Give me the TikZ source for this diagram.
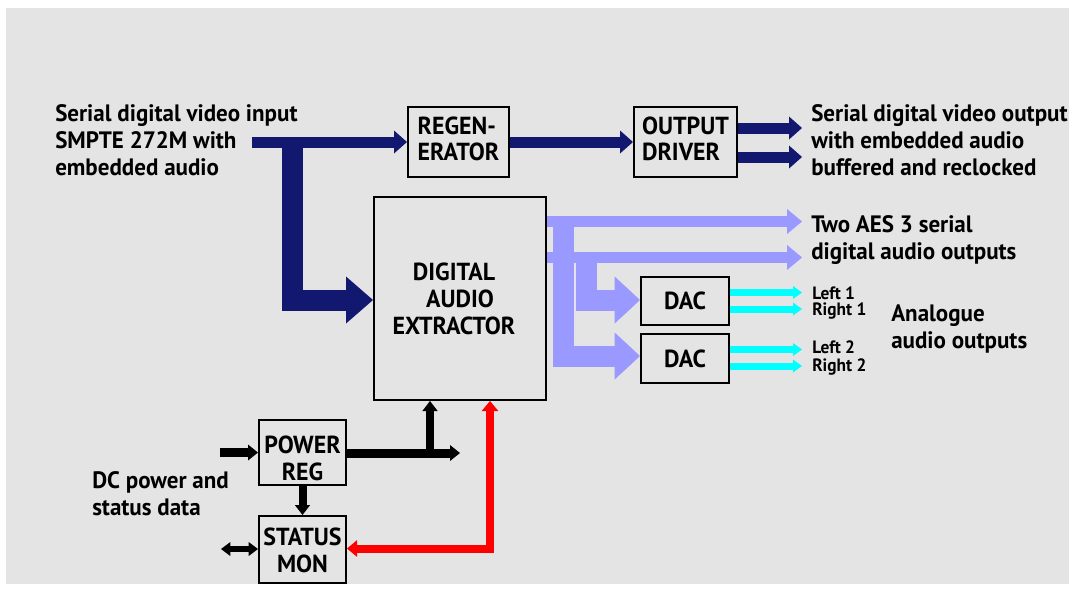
\documentclass[tikz,border=0pt]{standalone}
\usepackage{fontspec}
\setmainfont{PT Sans}
\newfontfamily\sdfont{PT Sans}[FakeStretch=0.97]
\usetikzlibrary{arrows.meta}
\definecolor{bg}{RGB}{228,228,228}
\definecolor{navy}{RGB}{18,24,112}
\definecolor{lav}{RGB}{153,153,255}
\definecolor{aqua}{RGB}{0,255,255}
\begin{document}
\begin{tikzpicture}[x=0.75pt,y=-0.75pt,
  lab/.style={font=\sdfont\bfseries\fontsize{17.8}{20.3}\selectfont, inner sep=0pt, align=left, anchor=north west},
  small/.style={font=\sdfont\bfseries\fontsize{13.4}{14}\selectfont, inner sep=0pt, anchor=base west},
  box/.style={draw=black, line width=1.5pt, inner sep=0pt, align=center, font=\sdfont\bfseries\fontsize{18.5}{20.25}\selectfont},
  navyA/.style={draw=navy, line width=8.25pt, -{Triangle[length=9.75pt,width=17.25pt,line width=0pt 0 0]}},
  navyB/.style={draw=navy, line width=15.75pt, -{Triangle[length=20.25pt,width=35.25pt,line width=0pt 0 0]}},
  lavA/.style={draw=lav, line width=8.25pt, -{Triangle[length=11.25pt,width=18.75pt,line width=0pt 0 0]}},
  lavB/.style={draw=lav, line width=15.75pt, -{Triangle[length=19pt,width=35.25pt,line width=0pt 0 0]}},
  cyanA/.style={draw=aqua, line width=5.25pt, -{Triangle[length=6.75pt,width=9.75pt,line width=0pt 0 0]}},
  blkA/.style={draw=black, line width=6.75pt, -{Triangle[length=7.5pt,width=12pt,line width=0pt 0 0]}},
  blkB/.style={draw=black, line width=6pt, -{Triangle[length=7.5pt,width=11.5pt,line width=0pt 0 0]}},
  blkD/.style={draw=black, line width=5pt, {Triangle[length=7pt,width=10.5pt,line width=0pt 0 0]}-{Triangle[length=7pt,width=10.5pt,line width=0pt 0 0]}},
  redD/.style={draw=red, line width=6pt, {Triangle[length=7.5pt,width=12.5pt,line width=0pt 0 0]}-{Triangle[length=7.5pt,width=12.5pt,line width=0pt 0 0]}}
]
\useasboundingbox (0,0) rectangle (1069,589);
\fill[bg] (6,8) rectangle (1069,584);

% boxes
\node[box, minimum width=75.75pt, minimum height=52.5pt] (regen) at (458.5,142) {\begin{tabular}{@{}l@{}}REGEN-\\[-1pt]ERATOR\end{tabular}};
\node[box, minimum width=77.25pt, minimum height=52.5pt] (outdrv) at (685.5,142) {\begin{tabular}{@{}l@{}}OUTPUT\\[-1pt]DRIVER\end{tabular}};
\node[box, minimum width=129pt, minimum height=152.25pt] (dae) at (460,298.5) {DIGITAL\hspace*{9pt}\\AUDIO\hspace*{9pt}\\EXTRACTOR\hspace*{9pt}};
\node[box, minimum width=66pt, minimum height=36pt] (dac1) at (685,301) {DAC};
\node[box, minimum width=66pt, minimum height=36.75pt] (dac2) at (685,358.5) {DAC};
\node[box, minimum width=65.25pt, minimum height=48.75pt] (pwr) at (302.5,452.5) {\rule{0pt}{22pt}POWER\\REG};
\node[box, minimum width=65.25pt, minimum height=50.25pt] (stat) at (302.5,549.5) {\rule{0pt}{15pt}STATUS\\MON};

% labels
\node[lab] (tin) at (55,104) {Serial digital video input\\SMPTE 272M with\\embedded audio};
\node[lab] (tout) at (811,104) {Serial digital video output\\with embedded audio\\buffered and reclocked};
\node[lab] (taes) at (811,215) {Two AES 3 serial\\digital audio outputs};
\node[lab] (tana) at (891,304) {Analogue\\audio outputs};
\node[lab] (tdc) at (92,471) {DC power and\\status data};
\node[small] (l1) at (812,299) {Left 1};
\node[small] (r1) at (812,315) {Right 1};
\node[small] (l2) at (812,353) {Left 2};
\node[small] (r2) at (812,371) {Right 2};

% coordinates
\coordinate (in0) at (252,142);
\coordinate (br0) at (292.5,137);
\coordinate (br1) at (292.5,300);
\coordinate (o1) at (802,128);
\coordinate (o2) at (802,157);
\coordinate (p1) at (802,221.5);
\coordinate (p2) at (802,257.5);
\coordinate (t1a) at (563,216);
\coordinate (t1b) at (563,356);
\coordinate (t2a) at (586,257);
\coordinate (t2b) at (586,300);
\coordinate (c1) at (802,292.5);
\coordinate (c2) at (802,309);
\coordinate (c3) at (802,349.5);
\coordinate (c4) at (802,366);
\coordinate (pin) at (220,452.5);
\coordinate (pout) at (460,453);
\coordinate (pup) at (430,453);
\coordinate (sio) at (221,549);
\coordinate (rc) at (490,548.5);

% navy
\draw[navyA] (in0) -- (regen.west);
\draw[navyB] (br0) -- (br1) -- (dae.west |- br1);
\draw[navyA] (regen.east) -- (outdrv.west);
\draw[navyA] (outdrv.east |- o1) -- (o1);
\draw[navyA] (outdrv.east |- o2) -- (o2);

% lavender
\draw[lavA] (dae.east |- p1) -- (p1);
\draw[lavA] (dae.east |- p2) -- (p2);
\draw[lavB] (t1a) -- (t1b) -- (dac2.west |- t1b);
\draw[lavB] (t2a) -- (t2b) -- (dac1.west |- t2b);

% cyan
\draw[cyanA] (dac1.east |- c1) -- (c1);
\draw[cyanA] (dac1.east |- c2) -- (c2);
\draw[cyanA] (dac2.east |- c3) -- (c3);
\draw[cyanA] (dac2.east |- c4) -- (c4);

% black
\draw[blkA] (pin) -- (pwr.west |- pin);
\draw[blkA] (pwr.east |- pout) -- (pout);
\draw[blkB] (pup) -- (pup |- dae.south);
\draw[blkB] (pwr.south) -- (stat.north);
\draw[blkD] (sio) -- (stat.west |- sio);

% red
\draw[redD] (rc |- dae.south) -- (rc) -- (stat.east |- rc);
\end{tikzpicture}
\end{document}
